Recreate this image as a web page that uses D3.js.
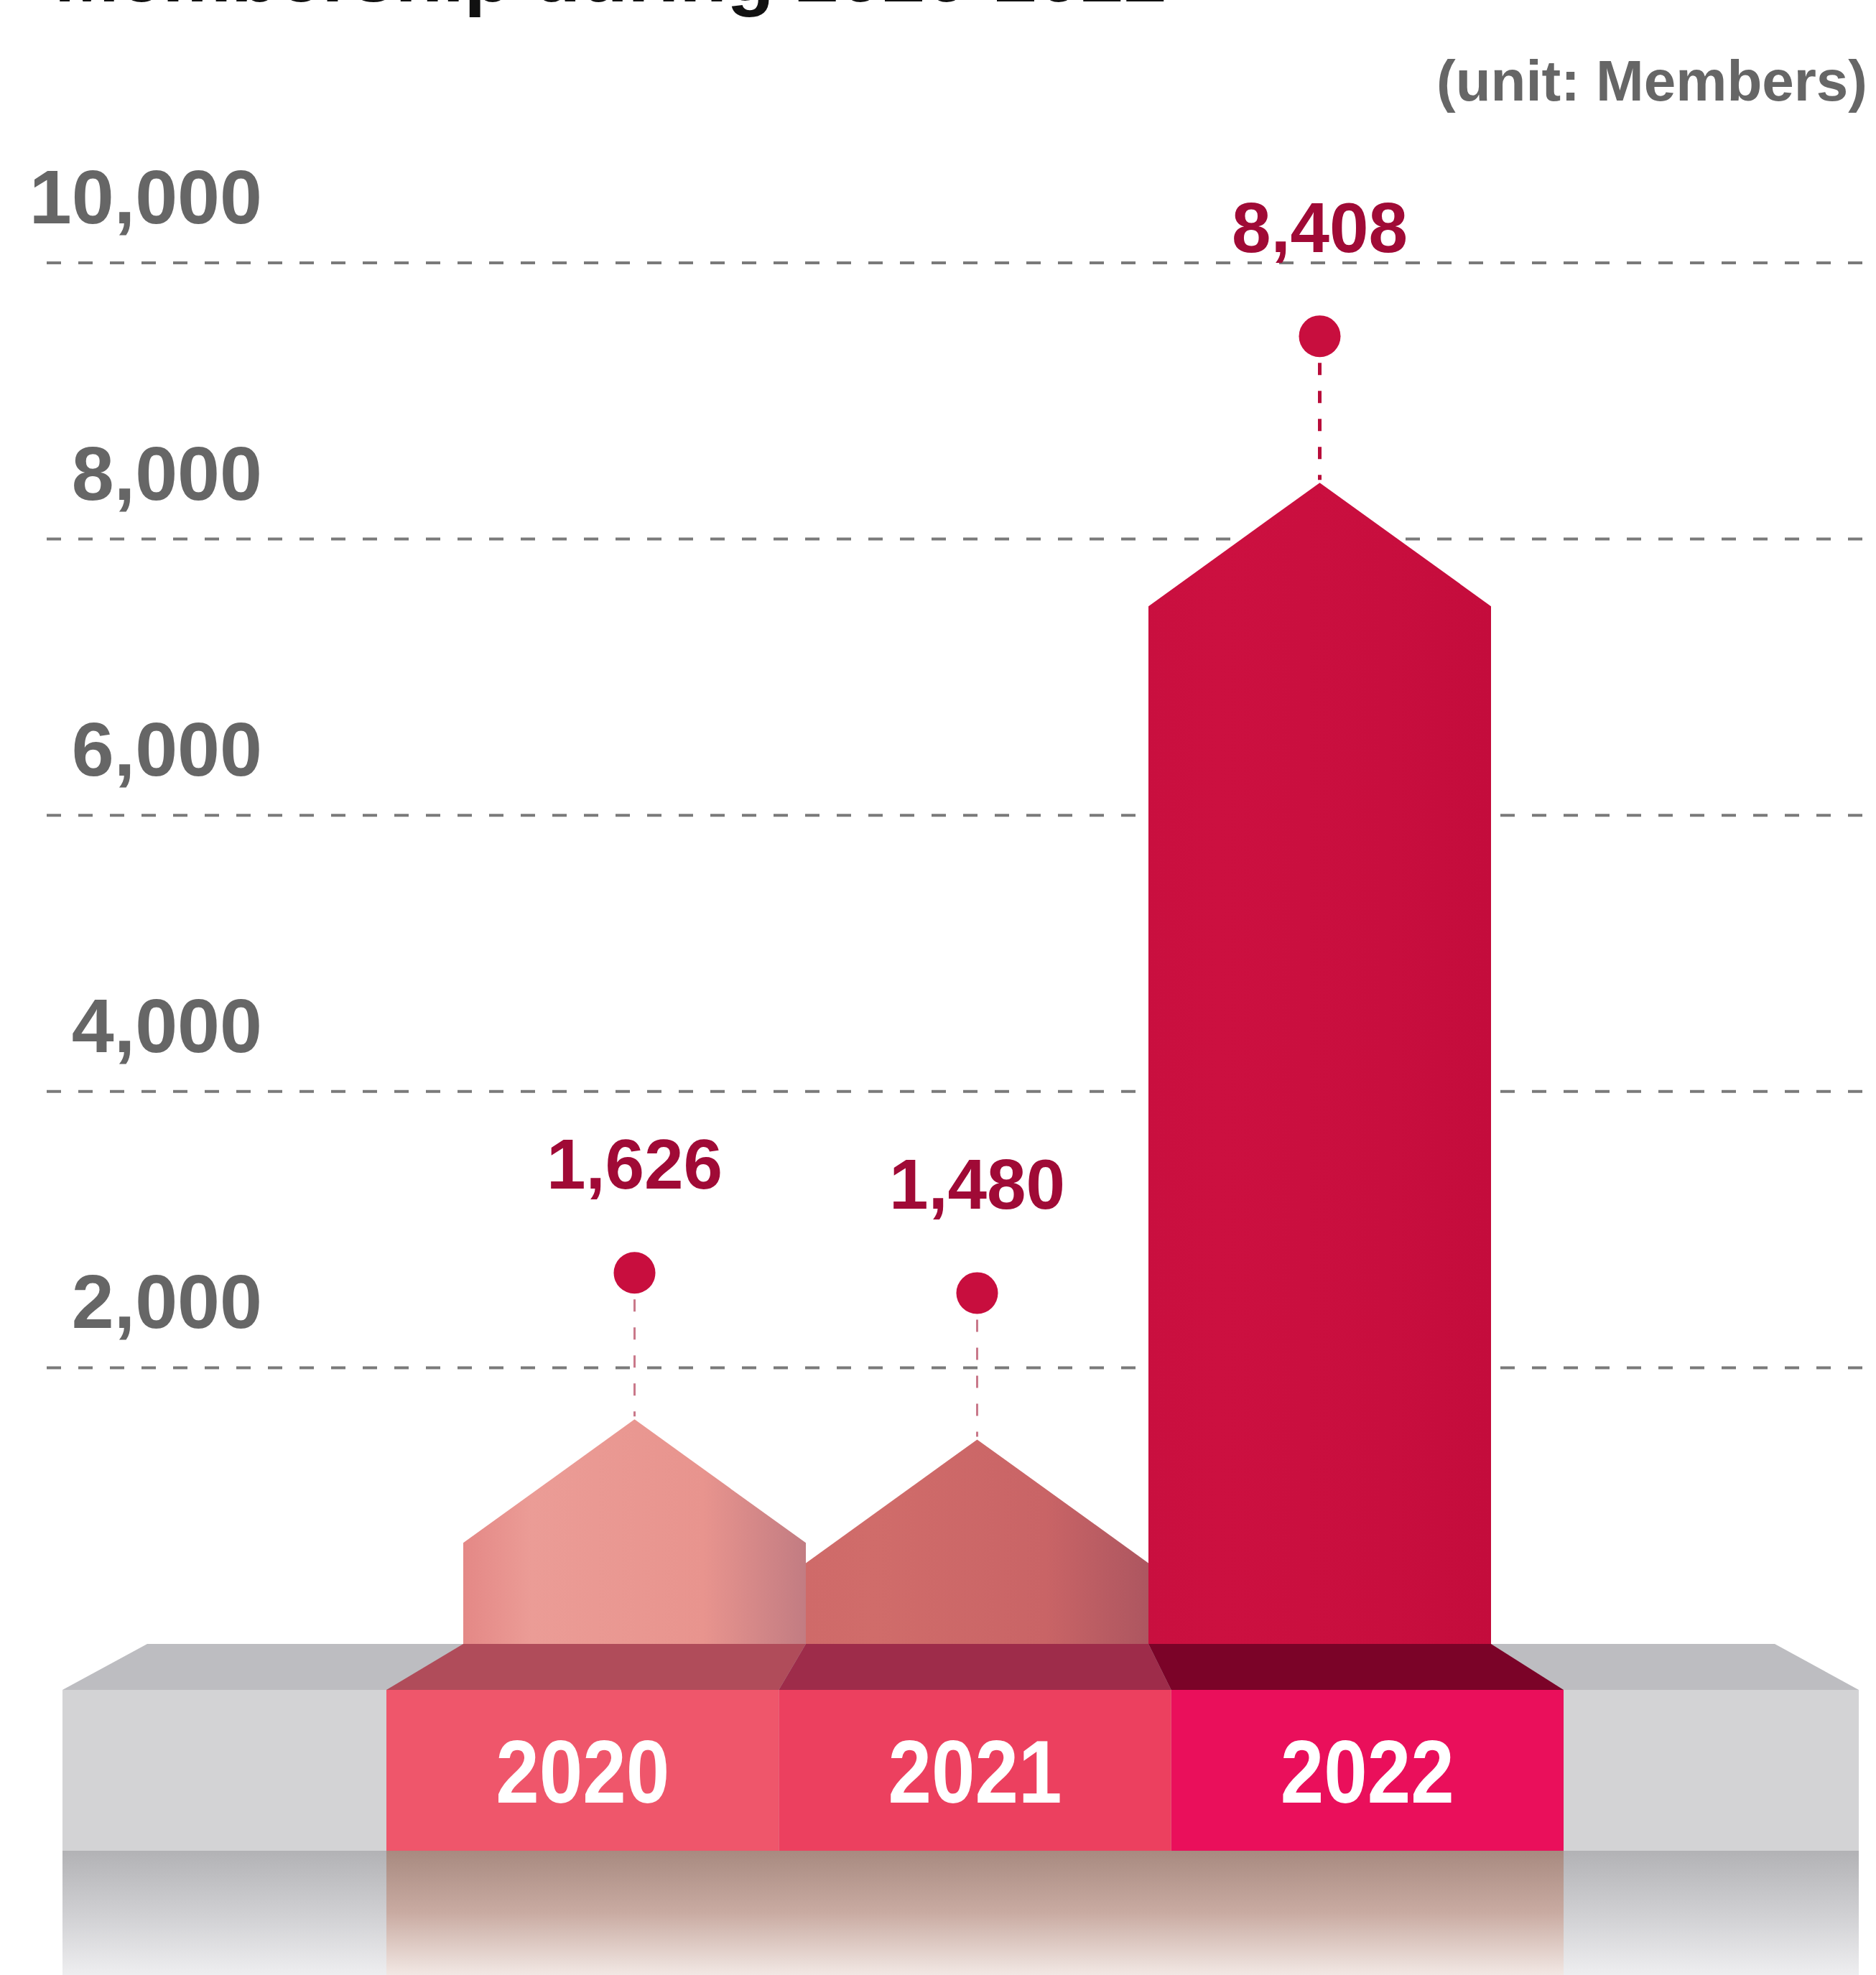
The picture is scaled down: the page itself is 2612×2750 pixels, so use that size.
<!DOCTYPE html>
<html>
<head>
<meta charset="utf-8">
<script src="https://cdn.jsdelivr.net/npm/d3@7"></script>
<style>
    html, body { margin: 0; padding: 0; background: #ffffff; }
    svg { display: block; }
</style>
</head>
<body>
<div class="membership"></div>
<script>
"use strict";

// Chart data
var years = ["2020", "2021", "2022"];
var members = [1626, 1480, 8408];
var yTicks = [2000, 4000, 6000, 8000, 10000];
var titleText = "Membership during 2020-2022";
var unitText = "(unit:  Members)";

// Colours for each year (bar, top of the stand, front of the stand)
var barColors = [
    ["#e48886", "#eb9c96", "#e8948e", "#c27c82"],
    ["#cf6a69", "#d06c6a", "#c96466", "#ad5660"],
    ["#c90f3f", "#cc1040", "#c80e3e", "#c40c3c"]
];
var standTopColors = ["#b04c5a", "#9e2c4a", "#7b0328"];
var standFrontColors = ["#ef566b", "#ec405f", "#ea0f5b"];

renderMembership();

function renderMembership() {
    var width = 2612;
    var height = 2750;
    var fmt = d3.format(",");

    var data = years.map(function (yr, i) {
        return { year: yr, value: members[i], index: i };
    });

    var svg = d3.select(".membership").append("svg")
        .attr("width", width)
        .attr("height", height);

    var defs = svg.append("defs");

    // Scales
    var y = d3.scaleLinear().domain([0, 10000]).range([2289, 366]);
    var x = d3.scaleBand().domain(years).range([645, 2076]).padding(0);
    var xFront = d3.scaleBand().domain(years).range([538, 2177]).padding(0);

    var roofHeight = 172;
    var standTop = y(0);
    var standFrontTop = standTop + 64;
    var standFrontBottom = standFrontTop + 224;

    // Gradients for the bars
    data.forEach(function (d) {
        var g = defs.append("linearGradient")
            .attr("id", "bar" + d.index)
            .attr("x1", "0%").attr("x2", "100%")
            .attr("y1", "0%").attr("y2", "0%");
        var stops = [0, 0.2, 0.7, 1];
        barColors[d.index].forEach(function (c, k) {
            g.append("stop").attr("offset", stops[k]).attr("stop-color", c);
        });
    });

    // Reflection gradients under the stand
    var reflColor = defs.append("linearGradient")
        .attr("id", "reflColor")
        .attr("x1", "0%").attr("x2", "0%")
        .attr("y1", "0%").attr("y2", "100%");
    reflColor.append("stop").attr("offset", 0).attr("stop-color", "#a88a80");
    reflColor.append("stop").attr("offset", 0.5).attr("stop-color", "#c9aba2");
    reflColor.append("stop").attr("offset", 1).attr("stop-color", "#f2e8e4");

    var reflGray = defs.append("linearGradient")
        .attr("id", "reflGray")
        .attr("x1", "0%").attr("x2", "0%")
        .attr("y1", "0%").attr("y2", "100%");
    reflGray.append("stop").attr("offset", 0).attr("stop-color", "#b2b2b5");
    reflGray.append("stop").attr("offset", 0.5).attr("stop-color", "#cfcfd2");
    reflGray.append("stop").attr("offset", 1).attr("stop-color", "#eeeef0");

    // Title (cut off at the top of the picture)
    svg.append("text")
        .attr("x", 76)
        .attr("y", 2)
        .style("font-family", "'Liberation Sans', Arial, sans-serif")
        .style("font-weight", "bold")
        .style("font-size", "108px")
        .style("fill", "#111111")
        .text(titleText);

    // Unit label
    svg.append("text")
        .attr("x", 2600)
        .attr("y", 140)
        .attr("text-anchor", "end")
        .style("font-family", "'Liberation Sans', Arial, sans-serif")
        .style("font-weight", "bold")
        .style("font-size", "80px")
        .style("fill", "#666666")
        .text(unitText);

    // Dashed grid lines
    svg.append("g")
        .selectAll("line")
        .data(yTicks)
        .enter().append("line")
        .attr("x1", 65)
        .attr("x2", 2593)
        .attr("y1", function (t) { return y(t); })
        .attr("y2", function (t) { return y(t); })
        .style("stroke", "#7a7a7a")
        .style("stroke-width", 4)
        .style("stroke-dasharray", "20,24");

    // Y tick labels
    svg.append("g")
        .selectAll("text")
        .data(yTicks)
        .enter().append("text")
        .attr("x", 365)
        .attr("y", function (t) { return y(t) - 55; })
        .attr("text-anchor", "end")
        .style("font-family", "'Liberation Sans', Arial, sans-serif")
        .style("font-weight", "bold")
        .style("font-size", "106px")
        .style("fill", "#666666")
        .text(function (t) { return fmt(t); });

    // Gray stand (top face, front face and its reflection)
    var grayBackL = 205, grayBackR = 2471, grayFrontL = 87, grayFrontR = 2588;

    svg.append("path")
        .attr("d", "M" + grayBackL + "," + standTop + "L" + grayBackR + "," + standTop +
            "L" + grayFrontR + "," + standFrontTop + "L" + grayFrontL + "," + standFrontTop + "Z")
        .style("fill", "#bdbdc1");

    svg.append("rect")
        .attr("x", grayFrontL)
        .attr("y", standFrontTop)
        .attr("width", grayFrontR - grayFrontL)
        .attr("height", standFrontBottom - standFrontTop)
        .style("fill", "#d3d3d5");

    svg.append("rect")
        .attr("x", grayFrontL)
        .attr("y", standFrontBottom)
        .attr("width", grayFrontR - grayFrontL)
        .attr("height", height - standFrontBottom)
        .style("fill", "url(#reflGray)");

    // Coloured part of the stand, one block per year
    var stand = svg.append("g");

    stand.selectAll("path.top")
        .data(data)
        .enter().append("path")
        .attr("class", "top")
        .attr("d", function (d) {
            var b0 = x(d.year), b1 = b0 + x.bandwidth();
            var f0 = xFront(d.year), f1 = f0 + xFront.bandwidth();
            return "M" + b0 + "," + standTop + "L" + b1 + "," + standTop +
                "L" + f1 + "," + standFrontTop + "L" + f0 + "," + standFrontTop + "Z";
        })
        .style("fill", function (d) { return standTopColors[d.index]; });

    stand.selectAll("rect.front")
        .data(data)
        .enter().append("rect")
        .attr("class", "front")
        .attr("x", function (d) { return xFront(d.year); })
        .attr("y", standFrontTop)
        .attr("width", xFront.bandwidth())
        .attr("height", standFrontBottom - standFrontTop)
        .style("fill", function (d) { return standFrontColors[d.index]; });

    stand.append("rect")
        .attr("x", xFront.range()[0])
        .attr("y", standFrontBottom)
        .attr("width", xFront.range()[1] - xFront.range()[0])
        .attr("height", height - standFrontBottom)
        .style("fill", "url(#reflColor)");

    // Year labels on the stand
    stand.selectAll("text.year")
        .data(data)
        .enter().append("text")
        .attr("class", "year")
        .attr("x", function (d) { return xFront(d.year) + xFront.bandwidth() / 2; })
        .attr("y", 2510)
        .attr("text-anchor", "middle")
        .attr("textLength", 242)
        .attr("lengthAdjust", "spacingAndGlyphs")
        .style("font-family", "'Liberation Sans', Arial, sans-serif")
        .style("font-weight", "bold")
        .style("font-size", "124px")
        .style("fill", "#ffffff")
        .text(function (d) { return d.year; });

    // Arrow shaped bars
    svg.append("g")
        .selectAll("path")
        .data(data)
        .enter().append("path")
        .attr("d", function (d) {
            var x0 = x(d.year), x1 = x0 + x.bandwidth(), xm = x0 + x.bandwidth() / 2;
            var top = y(d.value), shoulder = top + roofHeight, base = y(0);
            return "M" + x0 + "," + base + "L" + x0 + "," + shoulder + "L" + xm + "," + top +
                "L" + x1 + "," + shoulder + "L" + x1 + "," + base + "Z";
        })
        .style("fill", function (d) { return "url(#bar" + d.index + ")"; });

    // Markers above each bar: dashed stem, dot and value
    var dotGap = 204;
    var dotR = 29;
    var markers = svg.append("g")
        .selectAll("g")
        .data(data)
        .enter().append("g")
        .attr("transform", function (d) {
            return "translate(" + (x(d.year) + x.bandwidth() / 2) + "," + y(d.value) + ")";
        });

    markers.append("line")
        .attr("x1", 0).attr("x2", 0)
        .attr("y1", -dotGap + dotR + 8)
        .attr("y2", -4)
        .style("stroke", function (d) { return d.index === 2 ? "#b80d3a" : "#c9788a"; })
        .style("stroke-width", function (d) { return d.index === 2 ? 5 : 3; })
        .style("stroke-dasharray", "17,22");

    markers.append("circle")
        .attr("cx", 0)
        .attr("cy", -dotGap)
        .attr("r", dotR)
        .style("fill", "#c80e3e");

    markers.append("text")
        .attr("x", 0)
        .attr("y", -dotGap - 117)
        .attr("text-anchor", "middle")
        .style("font-family", "'Liberation Sans', Arial, sans-serif")
        .style("font-weight", "bold")
        .style("font-size", "98px")
        .style("fill", "#a00a36")
        .text(function (d) { return fmt(d.value); });
}
</script>
</body>
</html>
